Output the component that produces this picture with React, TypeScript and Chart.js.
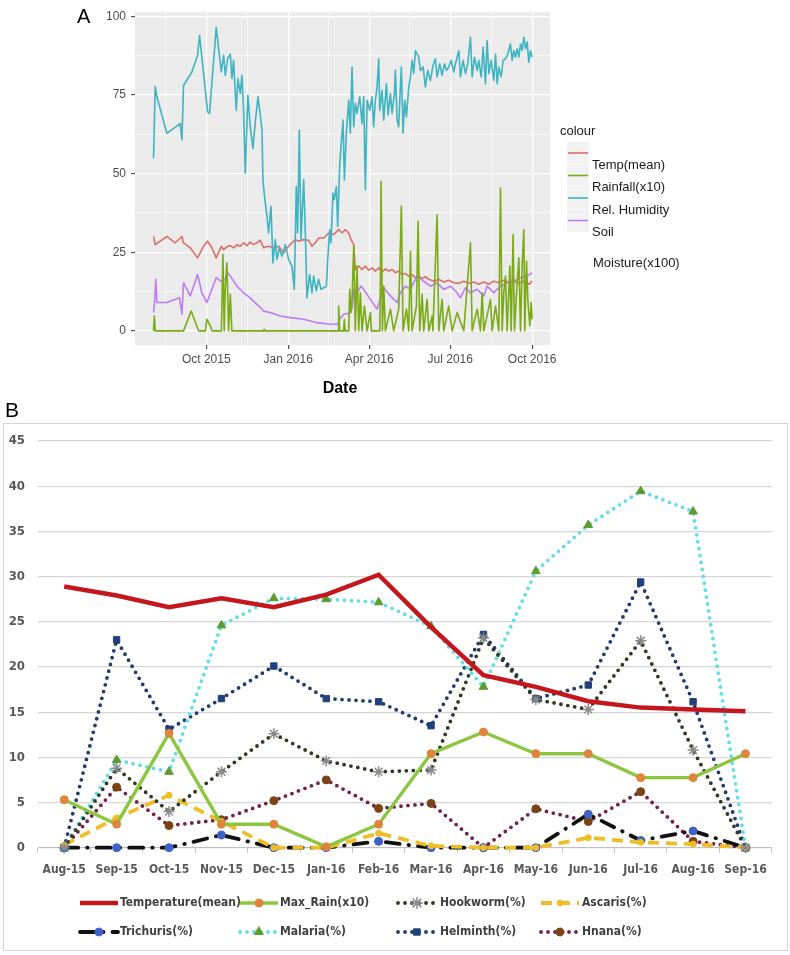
import React, { useEffect, useRef } from 'react';
import { Chart, registerables } from 'chart.js';
import { drawPoint } from 'chart.js/helpers';
Chart.register(...registerables);

// ---------------- Panel A (daily series, x = days since 1 Oct 2015) ----------------
const humDays = [-59.2, -57.3, -55.4, -44.2, -29.2, -27.3, -25.5, -16.1, -9.7, -7.5, -4.9, 1.5, 3.7, 11.2, 16.9, 19.5, 21.4, 24, 27, 28.8, 30.7, 33.7, 35.6, 38.2, 40.1, 42, 43.8, 46.8, 49.4, 52.4, 55.1, 58.1, 60.7, 62.6, 63.7, 66.3, 68.2, 70, 72.7, 74.9, 77.5, 79.4, 82, 85, 88.8, 92.5, 96.3, 98.9, 101.1, 102.6, 104.5, 106.4, 109.4, 111.3, 113.1, 116.1, 118.7, 120.6, 123.6, 126.2, 128.9, 131.9, 134.9, 136.4, 138.6, 140.1, 142.3, 143.8, 146.1, 147.6, 149.8, 151.3, 153.6, 155.1, 157.3, 160, 161.8, 163.7, 165.6, 167.4, 169.3, 172.3, 174.9, 176.8, 178.7, 180.6, 183.6, 186.2, 188, 189.9, 191.8, 193.7, 194.8, 197.4, 199.3, 202.3, 204.2, 206.8, 208.7, 211.3, 212.4, 214.3, 216.1, 218, 219.1, 221, 222.9, 224.8, 227.4, 229.3, 231.1, 233, 234.9, 238.6, 240.5, 243.5, 246.1, 248.7, 251.7, 254.7, 257.3, 259.2, 262.2, 264.8, 267.5, 269.7, 272.3, 275, 278, 279.8, 283.6, 285.4, 288.4, 291.1, 293.7, 296.7, 298.6, 301.2, 304.2, 306, 308.7, 310.9, 313.5, 315.4, 317.3, 319.9, 322.9, 324.8, 326.7, 328.5, 331.1, 333.4, 336, 338.6, 341.6, 343.5, 345.4, 347.3, 349.1, 351, 352.9, 354.7, 356.6, 358.5, 360.4, 362.2, 364.1, 366];
const humVals = [54.9, 77.7, 74.4, 62.8, 65.9, 60.7, 78, 82.3, 87.6, 93.9, 87, 69.6, 69.1, 96.5, 82.3, 87.6, 81.2, 86.5, 88, 80.2, 86, 70.1, 80.2, 75.4, 81.2, 69.6, 50.1, 74.9, 64.9, 58, 66.5, 74.4, 68.6, 63.8, 47.5, 40.6, 36.4, 31.1, 39.6, 21.6, 29, 22.7, 26.4, 23.7, 27.4, 22.7, 20.6, 13.2, 45.9, 31.1, 63.8, 29, 48, 31.1, 10.5, 17.9, 12.1, 17.4, 12.7, 16.4, 13.2, 13.7, 14.2, 22.7, 32.2, 28, 43.8, 41.7, 45.9, 33.2, 52.2, 58.5, 67, 48, 62.8, 73.3, 62.8, 83.9, 64.9, 72.3, 69.1, 74.4, 65.9, 74.4, 44.8, 73.3, 70.1, 74.4, 64.9, 73.3, 77.5, 86.5, 70.1, 76.5, 67, 78.6, 68.6, 75.4, 69.1, 75.4, 82.8, 67, 64.9, 77.5, 83.9, 62.8, 73.3, 68, 77.5, 80.7, 86, 81.8, 89.1, 87, 82.8, 83.9, 77.5, 82.8, 79.6, 84.4, 86.5, 80.7, 84.9, 81.2, 84.9, 82.8, 83.9, 86, 82.3, 84.9, 89.1, 80.7, 86, 81.8, 84.9, 93.4, 80.7, 87, 82.8, 86, 80.7, 90.2, 78.6, 92.3, 81.8, 86, 79.6, 88, 78.6, 83.9, 80.7, 86, 86.5, 88, 91.2, 86, 89.1, 87, 89.7, 87, 91.2, 89.1, 93.4, 89.7, 91.8, 85.4, 89.1, 87];

const tempDays = [-59.2, -57.3, -44.2, -34.8, -27.3, -25.5, -18, -9.7, -3, 1.5, 6.4, 11.2, 16.9, 19.5, 23.2, 27, 30.7, 34.5, 38.2, 42, 45.7, 49.4, 53.2, 56.9, 60.7, 64.4, 70, 75.7, 81.3, 86.9, 92.5, 96.3, 100, 103.8, 109.4, 115, 118.7, 122.5, 126.2, 131.9, 137.5, 143.1, 148.7, 152.5, 156.2, 160, 162.6, 165.6, 167.4, 171.2, 174.9, 178.7, 182.4, 186.2, 189.9, 193.7, 197.4, 201.2, 204.9, 208.7, 212.4, 216.1, 219.9, 223.6, 227.4, 231.1, 234.9, 238.6, 242.4, 246.1, 249.9, 255.5, 261.1, 266.7, 272.3, 278, 283.6, 289.2, 294.8, 300.4, 306, 311.7, 317.3, 322.9, 328.5, 334.1, 339.8, 345.4, 351, 356.6, 362.2, 366];
const tempVals = [30, 27.4, 30, 28, 30, 28, 26.4, 23.2, 26.9, 28.5, 26.4, 23.2, 26.9, 25.8, 26.7, 27.1, 26.4, 27.4, 26.9, 28, 27.1, 28.2, 27.4, 28, 28.8, 26.4, 26.9, 26.4, 26.9, 24.8, 26.9, 28, 29, 28.5, 29, 28.8, 26.9, 28, 29.5, 29.5, 31.1, 30.6, 32.2, 31.1, 32.2, 31.1, 29, 27.4, 19.5, 20.6, 19.5, 20.6, 19.3, 20, 19, 20, 18.7, 19.7, 19, 19.5, 18.5, 19, 17.9, 18.2, 17.4, 17.9, 16.9, 17.4, 16.6, 17.2, 16.4, 15.8, 16.4, 15.5, 16.1, 15.3, 15.1, 15.8, 15.1, 15.5, 14.8, 15.5, 14.8, 15.8, 15.3, 16.1, 15.3, 15.8, 15.1, 15.8, 14.8, 15.8];

const soilDays = [-59.2, -58, -56.6, -55.4, -44.2, -30, -27.3, -25.5, -18, -9.7, -4.9, 0.7, 11.2, 16.5, 21.4, 24, 27, 34.5, 42, 49.4, 60.7, 64.4, 71.9, 83.2, 94.4, 109.4, 124.4, 139.4, 147.6, 149.8, 154.3, 160, 163.7, 165.6, 169.3, 173.8, 176.8, 184.3, 191.8, 199.3, 206.8, 214.3, 218, 223.6, 229.3, 236.7, 244.2, 251.7, 259.2, 266.7, 274.2, 281.7, 285.4, 291.1, 296.7, 304.2, 311.7, 315.4, 322.9, 330.4, 337.9, 345.4, 352.9, 360.4, 366];
const soilVals = [5.8, 9.5, 16.4, 9, 9, 10.5, 5.3, 15.3, 11.1, 17.9, 12.1, 9, 16.9, 15.8, 16.4, 18.5, 17.4, 14.2, 12.1, 10.5, 7.4, 6.3, 5.8, 4.7, 4.2, 3.7, 2.6, 2.1, 2.1, 3.7, 5.3, 5.6, 6.9, 13.2, 12.1, 14.2, 13.2, 10, 6.9, 13.7, 11.1, 9, 12.1, 14.2, 13.2, 17.4, 15.8, 14.2, 15.3, 13.2, 14.2, 12.1, 10.5, 13.7, 12.1, 13.2, 11.1, 14.2, 12.1, 14.2, 15.3, 15.8, 16.9, 17.4, 18.5];

const rainDays = [-59.2, -58.3, -57.3, -25.5, -16.9, -8.6, -1, 0.7, 4.5, 6.4, 17, 18.7, 20.2, 21.4, 23.2, 25.1, 27, 28.8, 64.4, 65, 66, 148, 148.7, 149.8, 154.3, 155, 156, 160, 161.1, 162.6, 163.7, 165.6, 167.4, 169.3, 171.2, 173.1, 174.9, 177.6, 180.6, 184.3, 185.5, 194.8, 195.5, 196.3, 197.8, 199.3, 201.2, 206.8, 210.5, 216.1, 219.1, 221, 224.8, 227.4, 229.3, 231.1, 236, 237.9, 239.7, 242.4, 244.2, 248, 249.9, 253.6, 254.5, 259.2, 261.1, 264.8, 266.7, 272.3, 276.1, 281.7, 289.2, 296.7, 298.6, 304.2, 307.9, 309.8, 311.7, 319.2, 321, 324.8, 328.5, 330.4, 332.3, 334.1, 336, 337.9, 340.9, 342.4, 344.6, 346.1, 349.1, 351, 352.9, 354.7, 356.6, 357.7, 359.6, 361.1, 363.3, 364.9, 366];
const rainVals = [0, 4.7, 0, 0, 6.3, 0, 0, 3.7, 1.6, 0, 0, 24.3, 0, 14.2, 21.6, 0, 11.6, 0, 0, 0.5, 0, 0, 7.9, 0, 0, 3.7, 0, 0, 13.2, 5.8, 10, 26.9, 0, 20.6, 0, 12.1, 0, 7.9, 0, 5.8, 0, 0, 13.2, 47.5, 0, 14.2, 0, 6.9, 0, 6.9, 39.6, 0, 6.9, 0, 25.3, 0, 7.9, 34.8, 0, 11.6, 0, 10, 0, 4.7, 0, 36.9, 0, 10, 0, 7.9, 0, 5.8, 0, 28, 0, 6.9, 0, 12.1, 0, 10, 0, 7.9, 0, 45.4, 0, 12.1, 17.4, 0, 20.6, 0, 30.6, 0, 15.3, 23.2, 0, 20.6, 32.2, 0, 22.2, 10, 1.6, 9, 3.7];

const dateMajorDays = [0, 92, 183, 274, 366];
const dateMajorLabels = ['Oct 2015', 'Jan 2016', 'Apr 2016', 'Jul 2016', 'Oct 2016'];
const dateMinorDays = [-46, 46, 137.5, 228.5, 320];
const aYMajor = [0, 25, 50, 75, 100];
const aYMinor = [12.5, 37.5, 62.5, 87.5];
const aLegendLabels = ['Temp(mean)', 'Rainfall(x10)', 'Rel. Humidity', 'Soil'];
const aColors = { temp: '#DB6F66', rain: '#7AAA14', hum: '#3DB4C0', soil: '#BD7CF5' };

// ---------------- Panel B (monthly) ----------------
const months = ['Aug-15', 'Sep-15', 'Oct-15', 'Nov-15', 'Dec-15', 'Jan-16', 'Feb-16', 'Mar-16', 'Apr-16', 'May-16', 'Jun-16', 'Jul-16', 'Aug-16', 'Sep-16'];
const temperature = [28.9, 27.9, 26.6, 27.6, 26.6, 28.0, 30.2, 24.4, 19.1, 17.8, 16.2, 15.5, 15.3, 15.1];
const maxRain = [5.3, 2.6, 12.65, 2.6, 2.6, 0.1, 2.6, 10.4, 12.8, 10.4, 10.4, 7.75, 7.75, 10.4];
const hookworm = [0, 8.8, 4.0, 8.4, 12.6, 9.6, 8.4, 8.6, 23.2, 16.4, 15.3, 22.9, 10.8, 0];
const ascaris = [0.3, 3.3, 5.8, 2.9, 0, 0, 1.6, 0.2, 0, 0, 1.1, 0.6, 0.4, 0];
const trichuris = [0, 0, 0, 1.4, 0, 0, 0.7, 0, 0, 0, 3.7, 0.8, 1.85, 0];
const malaria = [0, 9.7, 8.4, 24.6, 27.6, 27.5, 27.15, 24.5, 17.8, 30.6, 35.7, 39.45, 37.2, 0];
const helminth = [0, 23.0, 13.1, 16.5, 20.1, 16.5, 16.15, 13.5, 23.6, 16.5, 18.0, 29.4, 16.15, 0];
const hnana = [0, 6.7, 2.45, 3.1, 5.2, 7.5, 4.35, 4.9, 0, 4.3, 2.9, 6.2, 0.7, 0];
const bLabels = ['Temperature(mean)', 'Max_Rain(x10)', 'Hookworm(%)', 'Ascaris(%)', 'Trichuris(%)', 'Malaria(%)', 'Helminth(%)', 'Hnana(%)'];

const NARROW = "'Liberation Sans Narrow', 'Arial Narrow', 'DejaVu Sans Condensed', sans-serif";
const SANS = "'Liberation Sans', Arial, sans-serif";

function pts(xs: number[], ys: number[]) {
  return xs.map((x, i) => ({ x, y: ys[i] }));
}

function buildA() {
  const isMajorX = (v: number) => dateMajorDays.indexOf(v) >= 0;
  const isMajorY = (v: number) => aYMajor.indexOf(v) >= 0;
  const lineDs = (label: string, data: any[], color: string) => ({
    label, data, borderColor: color, backgroundColor: color, borderWidth: 1.6,
    pointRadius: 0, tension: 0, borderJoinStyle: 'round' as const, clip: false as any,
  });
  const panelBg = {
    id: 'panelBg',
    beforeDraw(chart: any) {
      const { ctx, chartArea: a } = chart;
      ctx.save();
      ctx.fillStyle = '#EBEBEB';
      ctx.fillRect(a.left, a.top, a.right - a.left, a.bottom - a.top);
      ctx.restore();
    },
  };
  const extras = {
    id: 'extrasA',
    afterDraw(chart: any) {
      const ctx = chart.ctx as CanvasRenderingContext2D;
      ctx.save();
      ctx.fillStyle = '#000';
      ctx.font = `20px ${SANS}`;
      ctx.textBaseline = 'alphabetic';
      ctx.textAlign = 'left';
      ctx.fillText('A', 77, 23);
      ctx.font = `bold 16px ${SANS}`;
      ctx.textAlign = 'center';
      ctx.textBaseline = 'middle';
      ctx.fillText('Date', 340, 389);
      ctx.textAlign = 'left';
      ctx.font = `13px ${SANS}`;
      ctx.fillStyle = '#1A1A1A';
      ctx.fillText('colour', 560, 131);
      const cols = [aColors.temp, aColors.rain, aColors.hum, aColors.soil];
      for (let i = 0; i < 4; i++) {
        const top = 142 + 22.5 * i;
        ctx.fillStyle = '#F2F2F2';
        ctx.fillRect(567, top, 22, 22);
        ctx.strokeStyle = cols[i];
        ctx.lineWidth = 1.6;
        ctx.beginPath();
        ctx.moveTo(568, top + 11);
        ctx.lineTo(588, top + 11);
        ctx.stroke();
        ctx.fillStyle = '#1A1A1A';
        ctx.fillText(aLegendLabels[i], 592, 165 + 22.5 * i);
      }
      ctx.fillText('Moisture(x100)', 593, 263);
      ctx.restore();
    },
  };
  return {
    type: 'line' as const,
    data: {
      datasets: [
        lineDs('Rainfall(x10)', pts(rainDays, rainVals), aColors.rain),
        lineDs('Rel. Humidity', pts(humDays, humVals), aColors.hum),
        lineDs('Soil Moisture(x100)', pts(soilDays, soilVals), aColors.soil),
        lineDs('Temp(mean)', pts(tempDays, tempVals), aColors.temp),
      ],
    },
    options: {
      responsive: false,
      animation: false as const,
      devicePixelRatio: 1,
      layout: { padding: { left: 0, right: 240, top: 12, bottom: 0 } },
      plugins: { legend: { display: false }, tooltip: { enabled: false } },
      scales: {
        x: {
          type: 'linear' as const,
          min: -80,
          max: 386,
          afterBuildTicks: (s: any) => {
            s.ticks = [...dateMinorDays, ...dateMajorDays].sort((a, b) => a - b).map((v) => ({ value: v }));
          },
          afterFit: (s: any) => { s.height = 55; },
          border: { display: false },
          grid: {
            color: '#FFFFFF',
            lineWidth: (c: any) => (c.tick && isMajorX(c.tick.value) ? 1.3 : 0.6),
            tickColor: (c: any) => (c.tick && isMajorX(c.tick.value) ? '#333333' : 'rgba(0,0,0,0)'),
            tickLength: 4,
            tickWidth: 1,
          },
          ticks: {
            autoSkip: false, maxRotation: 0, padding: 3, color: '#4D4D4D',
            font: { family: SANS, size: 12 },
            callback: (v: any) => {
              const i = dateMajorDays.indexOf(v);
              return i >= 0 ? dateMajorLabels[i] : '';
            },
          },
        },
        y: {
          type: 'linear' as const,
          min: -4.5,
          max: 101.3,
          afterBuildTicks: (s: any) => {
            s.ticks = [...aYMajor, ...aYMinor].sort((a, b) => a - b).map((v) => ({ value: v }));
          },
          afterFit: (s: any) => { s.width = 135; },
          border: { display: false },
          grid: {
            color: '#FFFFFF',
            lineWidth: (c: any) => (c.tick && isMajorY(c.tick.value) ? 1.3 : 0.6),
            tickColor: (c: any) => (c.tick && isMajorY(c.tick.value) ? '#333333' : 'rgba(0,0,0,0)'),
            tickLength: 4,
            tickWidth: 1,
          },
          ticks: {
            autoSkip: false, padding: 5, color: '#4D4D4D',
            font: { family: SANS, size: 12 },
            callback: (v: any) => (isMajorY(v) ? String(v) : ''),
          },
        },
      },
    },
    plugins: [panelBg, extras],
  };
}

function buildB() {
  const dotted = { borderDash: [0, 7], borderCapStyle: 'round' as const };
  const datasets: any[] = [
    { label: bLabels[0], data: temperature, borderColor: '#C4161C', borderWidth: 4.5, pointRadius: 0, pointStyle: false },
    { label: bLabels[1], data: maxRain, borderColor: '#8CC63F', borderWidth: 3.4, pointStyle: 'circle', pointRadius: 4, pointBackgroundColor: '#E0833B', pointBorderColor: '#E0833B', pointBorderWidth: 1 },
    { label: bLabels[2], data: hookworm, borderColor: '#2C3A20', borderWidth: 3.8, ...dotted, pointStyle: 'star', pointRadius: 5.5, pointBackgroundColor: '#8A8A8A', pointBorderColor: '#8A8A8A', pointBorderWidth: 1.5 },
    { label: bLabels[3], data: ascaris, borderColor: '#F0BD25', borderWidth: 3.8, borderDash: [11, 7], pointStyle: 'circle', pointRadius: 3, pointBackgroundColor: '#F0BD25', pointBorderColor: '#F0BD25', pointBorderWidth: 1 },
    { label: bLabels[4], data: trichuris, borderColor: '#111111', borderWidth: 3.8, borderDash: [14, 9, 0.5, 9], borderCapStyle: 'round', pointStyle: 'circle', pointRadius: 4, pointBackgroundColor: '#3F62C8', pointBorderColor: '#3F62C8', pointBorderWidth: 1 },
    { label: bLabels[5], data: malaria, borderColor: '#62DDEA', borderWidth: 3.8, ...dotted, pointStyle: 'triangle', pointRadius: 5, pointBackgroundColor: '#5E9B2E', pointBorderColor: '#5E9B2E', pointBorderWidth: 1 },
    { label: bLabels[6], data: helminth, borderColor: '#1F3B70', borderWidth: 3.8, ...dotted, pointStyle: 'rect', pointRadius: 4.5, pointBackgroundColor: '#22407A', pointBorderColor: '#22407A', pointBorderWidth: 1 },
    { label: bLabels[7], data: hnana, borderColor: '#74204A', borderWidth: 3.8, ...dotted, pointStyle: 'circle', pointRadius: 4, pointBackgroundColor: '#7B4216', pointBorderColor: '#7B4216', pointBorderWidth: 1 },
  ].map((d) => ({ tension: 0, clip: false, fill: false, ...d }));

  const legendPos = [
    { x1: 80, x2: 118, tx: 120, y: 503 },
    { x1: 240, x2: 278, tx: 280, y: 503 },
    { x1: 398, x2: 436, tx: 440, y: 503 },
    { x1: 541, x2: 579, tx: 582, y: 503 },
    { x1: 80, x2: 118, tx: 120, y: 532 },
    { x1: 240, x2: 278, tx: 280, y: 532 },
    { x1: 398, x2: 436, tx: 440, y: 532 },
    { x1: 541, x2: 579, tx: 582, y: 532 },
  ];

  const frame = {
    id: 'frameB',
    beforeDraw(chart: any) {
      const ctx = chart.ctx as CanvasRenderingContext2D;
      ctx.save();
      ctx.strokeStyle = '#D4D4D4';
      ctx.lineWidth = 1;
      ctx.strokeRect(3.5, 23.5, 784, 527);
      ctx.fillStyle = '#000';
      ctx.font = `21px ${SANS}`;
      ctx.textBaseline = 'alphabetic';
      ctx.fillText('B', 5, 17);
      ctx.restore();
    },
  };
  const legend = {
    id: 'legendB',
    afterDraw(chart: any) {
      const ctx = chart.ctx as CanvasRenderingContext2D;
      ctx.save();
      datasets.forEach((ds, i) => {
        const p = legendPos[i];
        ctx.save();
        ctx.strokeStyle = ds.borderColor;
        ctx.lineWidth = ds.borderWidth;
        ctx.setLineDash(ds.borderDash || []);
        ctx.lineCap = ds.borderCapStyle || 'butt';
        ctx.beginPath();
        ctx.moveTo(p.x1, p.y);
        ctx.lineTo(p.x2, p.y);
        ctx.stroke();
        ctx.setLineDash([]);
        if (ds.pointStyle && ds.pointRadius > 0) {
          ctx.fillStyle = ds.pointBackgroundColor;
          ctx.strokeStyle = ds.pointBorderColor;
          ctx.lineWidth = ds.pointBorderWidth;
          drawPoint(ctx, { pointStyle: ds.pointStyle, radius: ds.pointRadius, borderWidth: ds.pointBorderWidth, rotation: 0 } as any, (p.x1 + p.x2) / 2, p.y);
        }
        ctx.restore();
        ctx.fillStyle = '#404040';
        ctx.font = `bold 12px ${NARROW}`;
        ctx.textAlign = 'left';
        ctx.textBaseline = 'middle';
        ctx.fillText(ds.label, p.tx, p.y);
      });
      ctx.restore();
    },
  };

  return {
    type: 'line' as const,
    data: { labels: months, datasets },
    options: {
      responsive: false,
      animation: false as const,
      devicePixelRatio: 1,
      layout: { padding: { left: 0, right: 18.3, top: 41, bottom: 0 } },
      plugins: { legend: { display: false }, tooltip: { enabled: false } },
      scales: {
        x: {
          type: 'category' as const,
          offset: true,
          afterFit: (s: any) => { s.height = 107.3; },
          border: { display: true, color: '#BFBFBF', width: 1 },
          grid: { offset: true, drawOnChartArea: false, drawTicks: true, tickLength: 5, tickColor: '#BFBFBF', color: '#BFBFBF' },
          ticks: { autoSkip: false, maxRotation: 0, padding: 10, color: '#595959', font: { family: NARROW, size: 12, weight: 'bold' as const } },
        },
        y: {
          type: 'linear' as const,
          min: 0,
          max: 45,
          afterFit: (s: any) => { s.width = 38; },
          border: { display: false },
          grid: { color: '#D6D6D6', lineWidth: 1.2, drawTicks: false },
          ticks: { stepSize: 5, padding: 13, color: '#595959', font: { family: NARROW, size: 13, weight: 'bold' as const } },
        },
      },
    },
    plugins: [frame, legend],
  };
}

export default function App() {
  const refA = useRef<HTMLCanvasElement>(null);
  const refB = useRef<HTMLCanvasElement>(null);
  useEffect(() => {
    const a = new Chart(refA.current as HTMLCanvasElement, buildA() as any);
    const b = new Chart(refB.current as HTMLCanvasElement, buildB() as any);
    return () => {
      a.destroy();
      b.destroy();
    };
  }, []);
  return (
    <div style={{ position: 'absolute', left: 0, top: 0, width: 790, height: 955, background: '#FFFFFF' }}>
      <canvas ref={refA} width={790} height={400} style={{ position: 'absolute', left: 0, top: 0, width: 790, height: 400 }} />
      <canvas ref={refB} width={790} height={555} style={{ position: 'absolute', left: 0, top: 400, width: 790, height: 555 }} />
    </div>
  );
}
